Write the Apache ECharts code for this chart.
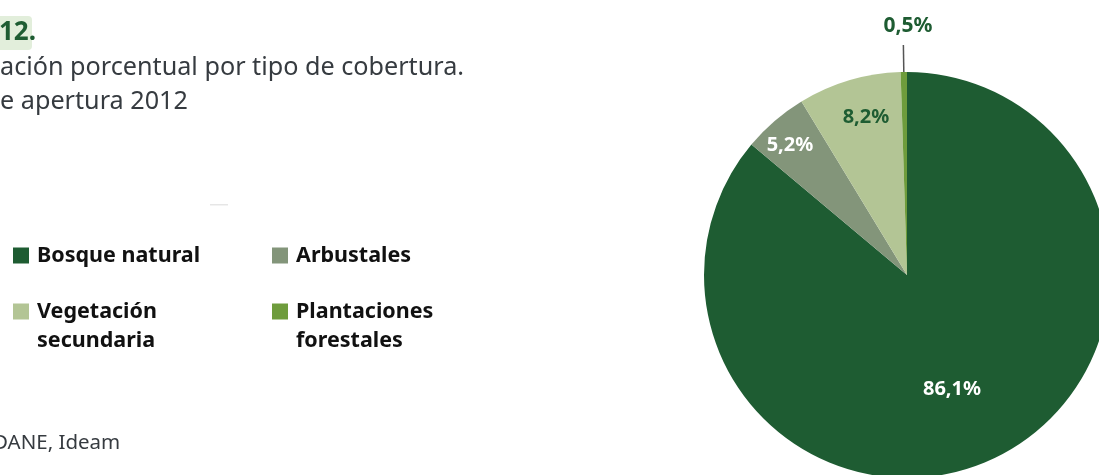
<!DOCTYPE html>
<html><head><meta charset="utf-8">
<script src="https://cdn.jsdelivr.net/npm/echarts@6/dist/echarts.min.js"></script>
<style>html,body{margin:0;padding:0;background:#fff}#c{width:1099px;height:475px}</style>
</head><body><div id="c"></div>
<script>
const categories = ['Bosque natural', 'Arbustales', 'Vegetación secundaria', 'Plantaciones forestales'];
const values = [86.1, 5.2, 8.2, 0.5];
const titleText = '12.';
const subtitleLines = ['ación porcentual por tipo de cobertura.', 'e apertura 2012'];
const sourceText = 'DANE, Ideam';

const colors = ['#1e5c32', '#83957a', '#b3c595', '#6e9c3c'];
const labelColors = ['#ffffff', '#ffffff', '#1e5c32', '#1e5c32'];
// inside label placement: fraction of radius, angular nudge (deg); null = outside label
const labelPlace = [[0.604, 3.5], [0.862, -1.3], [0.804, 2.0], null];
const CX = 907, CY = 275, R = 203;
const FONT = '"Noto Sans", "Open Sans", sans-serif';

const fmt = v => v.toFixed(1).replace('.', ',') + '%';
const total = values.reduce((a, b) => a + b, 0);
const midAngles = [];
values.reduce((cum, v) => { midAngles.push((cum + v / 2) / total * 360); return cum + v; }, 0);

const data = categories.map((name, i) => {
  const item = {
    name: name,
    value: values[i],
    itemStyle: { color: colors[i] },
    label: { color: labelColors[i] }
  };
  if (labelPlace[i] == null) {
    item.label = {
      position: 'outside',
      distanceToLabelLine: -29,
      formatter: p => '{v|' + fmt(p.value) + '}\n{s| }',
      rich: {
        v: { fontFamily: FONT, fontSize: 21, fontWeight: 'bold', color: labelColors[i], lineHeight: 18, align: 'right' },
        s: { fontSize: 8, lineHeight: 38 }
      }
    };
    item.labelLine = { show: true, length: 27, length2: 0, lineStyle: { color: '#555', width: 1.5 } };
  }
  return item;
});

const legendRich = {
  a: { fontFamily: FONT, fontSize: 21.5, fontWeight: 'bold', color: '#111', lineHeight: 29, padding: [0, 0, 0, 3] },
  s: { fontSize: 8, lineHeight: 29 }
};
function legendItem(name, left, top, multi) {
  return {
    data: [name],
    left: left, top: top, padding: 0,
    icon: 'rect', itemWidth: 16, itemHeight: 16, itemGap: 0,
    selectedMode: false,
    formatter: multi
      ? (n => '{s| }\n' + n.split(' ').map(w => '{a|' + w + '}').join('\n'))
      : (n => '{a|' + n + '}'),
    textStyle: { rich: legendRich }
  };
}

const chart = echarts.init(document.getElementById('c'), null, { renderer: 'canvas' });
chart.setOption({
  animation: false,
  backgroundColor: '#ffffff',
  legend: [
    legendItem(categories[0], 13, 244.5, false),
    legendItem(categories[1], 272, 244.5, false),
    legendItem(categories[2], 13, 278.5, true),
    legendItem(categories[3], 272, 278.5, true)
  ],
  graphic: [
    { type: 'rect', shape: { x: -6, y: 16, width: 38, height: 34, r: 4 }, style: { fill: '#e2eedb' } },
    { type: 'text', x: -1, y: 33, style: { text: titleText, fontFamily: FONT, fontSize: 26, fontWeight: 'bold', fill: '#1e5c32', verticalAlign: 'middle' } },
    { type: 'text', x: 0, y: 68, style: { text: subtitleLines[0], fontFamily: FONT, fontSize: 25.2, fill: '#363b40', verticalAlign: 'middle' } },
    { type: 'text', x: 0, y: 102, style: { text: subtitleLines[1], fontFamily: FONT, fontSize: 25.2, fill: '#363b40', verticalAlign: 'middle' } },
    { type: 'rect', shape: { x: 210, y: 204, width: 18, height: 1.5 }, style: { fill: '#e6e6e6' } },
    { type: 'text', x: -7, y: 443, style: { text: sourceText, fontFamily: FONT, fontSize: 20.5, fill: '#363b40', verticalAlign: 'middle' } }
  ],
  series: [{
    type: 'pie',
    center: [CX, CY],
    radius: [0, R],
    startAngle: 90,
    clockwise: true,
    avoidLabelOverlap: false,
    data: data,
    label: {
      show: true,
      position: 'inside',
      formatter: p => fmt(p.value),
      fontFamily: FONT,
      fontSize: 20,
      fontWeight: 'bold'
    },
    labelLine: { show: false },
    labelLayout: function (p) {
      const pl = labelPlace[p.dataIndex];
      if (pl == null) return {};
      const a = (midAngles[p.dataIndex] + pl[1]) * Math.PI / 180;
      return { x: CX + pl[0] * R * Math.sin(a), y: CY - pl[0] * R * Math.cos(a) };
    },
    emphasis: { disabled: true }
  }]
});
</script>
</body></html>
